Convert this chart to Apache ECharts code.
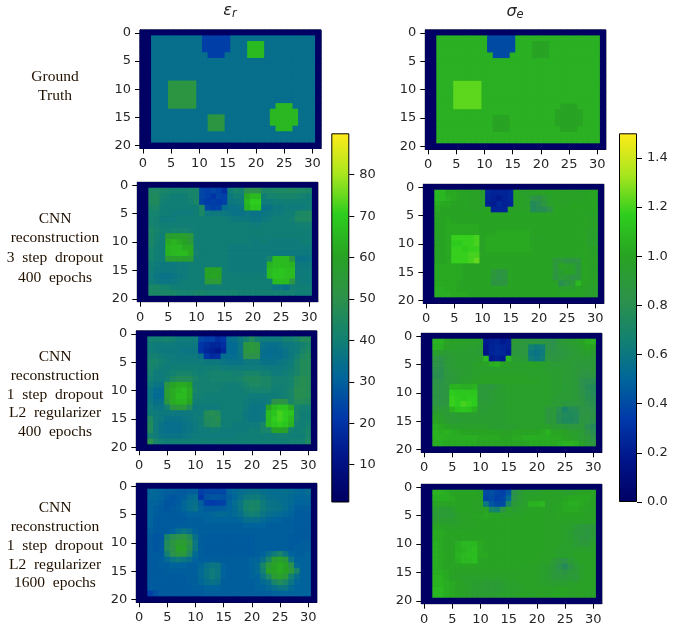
<!DOCTYPE html>
<html><head><meta charset="utf-8">
<script src="https://cdn.jsdelivr.net/npm/echarts@6/dist/echarts.min.js"></script>
<style>html,body{margin:0;padding:0;background:#fff}#c{width:684px;height:632px}</style>
</head><body><div id="c"></div>
<script>
const colLabels=Array.from({length:32},(_,i)=>String(i));
const rowLabels=Array.from({length:21},(_,i)=>String(i));
const epsBorder=1, sigBorder=0;
const epsRange=[1,90], sigRange=[0,1.5];
const epsTicks=[10,20,30,40,50,60,70,80];
const sigTicks=[0,0.2,0.4,0.6,0.8,1.0,1.2,1.4];
const cmap=['#000064','#001488','#0038aa','#00669a','#14826f','#2d9248','#28a323','#2dcd1e','#aae61e','#ffeb19'];
const rowTexts=['Ground\nTruth','CNN\nreconstruction\n3  step  dropout\n400  epochs','CNN\nreconstruction\n1  step  dropout\nL2  regularizer\n400  epochs','CNN\nreconstruction\n1  step  dropout\nL2  regularizer\n1600  epochs'];

const epsTruth=[
[34,34,34,34,34,34,34,34,34,22,22,22,22,22,34,34,34,34,34,34,34,34,34,34,34,34,34,34,34],
[34,34,34,34,34,34,34,34,34,22,22,22,22,22,34,34,34,66,66,66,34,34,34,34,34,34,34,34,34],
[34,34,34,34,34,34,34,34,34,22,22,22,22,22,34,34,34,66,66,66,34,34,34,34,34,34,34,34,34],
[34,34,34,34,34,34,34,34,34,34,22,22,22,34,34,34,34,66,66,66,34,34,34,34,34,34,34,34,34],
[34,34,34,34,34,34,34,34,34,34,34,34,34,34,34,34,34,34,34,34,34,34,34,34,34,34,34,34,34],
[34,34,34,34,34,34,34,34,34,34,34,34,34,34,34,34,34,34,34,34,34,34,34,34,34,34,34,34,34],
[34,34,34,34,34,34,34,34,34,34,34,34,34,34,34,34,34,34,34,34,34,34,34,34,34,34,34,34,34],
[34,34,34,34,34,34,34,34,34,34,34,34,34,34,34,34,34,34,34,34,34,34,34,34,34,34,34,34,34],
[34,34,34,52,52,52,52,52,34,34,34,34,34,34,34,34,34,34,34,34,34,34,34,34,34,34,34,34,34],
[34,34,34,52,52,52,52,52,34,34,34,34,34,34,34,34,34,34,34,34,34,34,34,34,34,34,34,34,34],
[34,34,34,52,52,52,52,52,34,34,34,34,34,34,34,34,34,34,34,34,34,34,34,34,34,34,34,34,34],
[34,34,34,52,52,52,52,52,34,34,34,34,34,34,34,34,34,34,34,34,34,34,34,34,34,34,34,34,34],
[34,34,34,52,52,52,52,52,34,34,34,34,34,34,34,34,34,34,34,34,34,34,65,65,65,34,34,34,34],
[34,34,34,34,34,34,34,34,34,34,34,34,34,34,34,34,34,34,34,34,34,65,65,65,65,65,34,34,34],
[34,34,34,34,34,34,34,34,34,34,52,52,52,34,34,34,34,34,34,34,34,65,65,65,65,65,34,34,34],
[34,34,34,34,34,34,34,34,34,34,52,52,52,34,34,34,34,34,34,34,34,65,65,65,65,65,34,34,34],
[34,34,34,34,34,34,34,34,34,34,52,52,52,34,34,34,34,34,34,34,34,34,65,65,65,34,34,34,34],
[34,34,34,34,34,34,34,34,34,34,34,34,34,34,34,34,34,34,34,34,34,34,34,34,34,34,34,34,34],
[34,34,34,34,34,34,34,34,34,34,34,34,34,34,34,34,34,34,34,34,34,34,34,34,34,34,34,34,34]];

const epsStep3=[
[44,44,43,42,41,41,41,42,42,24,22,24,22,18,39,42,41,50,50,50,43,43,44,44,44,45,44,44,43],
[45,45,41,40,39,39,39,41,42,24,22,20,23,22,37,39,39,62,66,66,39,41,41,42,42,42,41,40,39],
[45,45,40,39,39,39,39,40,43,23,21,22,21,22,37,37,38,65,70,70,38,38,39,39,39,39,39,39,39],
[43,43,39,39,39,39,39,39,39,44,24,22,23,33,35,35,36,64,68,68,35,35,37,37,38,38,38,38,39],
[41,41,39,39,38,38,38,38,39,43,37,37,37,37,36,35,35,36,35,35,36,37,38,38,39,39,43,44,44],
[41,40,38,38,38,39,39,39,39,39,39,39,39,39,38,37,37,37,36,36,37,38,39,39,39,40,44,44,44],
[41,40,39,39,39,39,39,39,39,39,39,39,39,39,39,39,39,39,38,38,39,39,39,39,39,39,40,40,40],
[43,41,40,40,41,41,41,40,39,39,39,39,39,39,39,39,39,39,39,39,39,39,39,39,39,39,39,39,39],
[43,40,39,56,58,58,58,54,39,39,39,39,39,39,39,39,39,39,39,39,39,39,39,39,39,39,39,39,39],
[43,40,39,62,64,62,60,55,39,39,39,39,39,39,39,39,39,39,38,38,39,38,38,38,38,38,38,39,39],
[42,39,39,64,65,65,62,62,39,39,39,39,39,39,38,38,38,38,38,38,38,38,38,38,38,38,38,38,38],
[41,39,39,64,65,66,66,62,40,39,39,39,39,39,38,38,38,38,38,38,38,38,37,37,37,37,37,37,37],
[41,39,39,56,58,58,58,56,39,39,39,39,39,39,38,38,38,38,38,38,38,42,66,66,66,52,35,35,36],
[39,38,37,37,37,38,38,39,39,39,39,39,39,39,38,38,38,38,38,38,38,64,66,66,66,64,37,37,37],
[39,37,37,37,37,38,38,39,39,39,60,60,60,39,38,38,38,38,38,38,38,66,67,68,67,66,38,38,38],
[38,36,35,35,36,37,38,39,39,39,60,61,60,39,39,39,39,39,39,39,39,66,68,68,67,66,38,38,38],
[39,37,36,36,37,38,39,39,39,39,55,55,55,39,39,39,39,39,39,39,39,39,66,66,66,52,39,38,38],
[43,43,41,41,39,39,39,39,39,39,39,39,39,39,39,39,39,39,39,39,39,39,36,36,34,39,39,39,39],
[43,43,43,43,43,41,41,41,42,42,41,41,41,41,41,41,40,40,40,40,40,40,40,40,40,40,39,39,39]];

const epsL2400=[
[40,40,40,41,40,38,38,38,38,24,22,22,18,20,33,34,37,40,46,40,38,38,38,38,40,40,42,46,46],
[39,38,38,38,38,37,37,37,37,20,18,16,16,18,32,32,36,52,54,52,35,34,34,35,37,37,38,40,42],
[39,38,37,37,37,37,36,36,36,20,16,14,12,16,32,32,36,52,54,52,34,33,33,34,35,37,38,42,44],
[40,40,39,38,38,37,37,37,37,35,20,17,18,33,33,33,35,50,50,50,34,33,34,34,35,37,40,44,46],
[42,42,40,39,38,38,38,38,38,38,37,37,37,36,35,35,35,37,37,37,35,35,35,36,37,38,42,46,46],
[42,40,39,38,39,39,39,39,39,39,39,39,39,38,38,38,38,38,38,38,38,37,37,37,38,39,42,46,46],
[41,38,38,39,40,42,42,42,40,39,40,41,41,41,41,40,40,42,42,42,40,40,38,38,39,40,42,46,46],
[40,38,38,40,44,46,46,46,42,40,40,41,41,41,41,41,42,44,45,45,43,43,40,40,40,41,46,48,47],
[38,36,35,52,60,62,62,60,40,40,40,40,40,40,39,39,40,42,44,44,43,43,40,40,40,41,46,48,47],
[36,33,32,56,62,64,66,62,42,40,40,40,40,39,39,39,39,40,41,41,41,41,39,39,40,42,48,48,47],
[36,32,32,56,62,66,66,62,40,40,39,39,39,39,39,39,39,39,38,38,38,38,38,39,40,42,48,48,47],
[37,34,35,52,62,64,64,60,39,39,39,39,39,39,39,39,39,38,37,37,37,38,50,52,50,42,46,46,45],
[38,36,36,40,52,54,54,46,37,38,38,38,38,39,39,39,39,38,36,36,36,60,66,68,68,62,42,40,40],
[39,38,37,37,37,37,37,37,38,38,46,48,46,39,39,39,39,37,36,36,37,66,68,72,70,68,42,39,39],
[44,38,37,35,35,35,36,37,38,39,46,46,48,39,39,39,39,37,36,36,37,66,70,72,70,66,42,39,39],
[46,38,35,34,34,34,35,36,37,39,44,46,46,39,39,38,38,38,38,38,42,66,68,70,68,64,40,39,40],
[46,38,35,34,34,34,35,36,37,38,38,39,39,38,38,38,38,38,39,39,42,42,60,60,58,40,39,40,42],
[40,38,36,35,35,35,36,37,38,38,38,38,38,38,38,38,39,39,39,39,39,39,39,40,40,39,39,39,42],
[50,42,40,39,39,39,39,39,39,39,39,39,39,39,39,39,39,39,39,39,39,39,39,39,39,40,40,40,44]];

const epsL21600=[
[31,31,30,29,29,28,28,29,29,22,24,24,24,24,30,32,33,34,35,35,34,33,33,33,34,33,32,31,33],
[31,31,30,28,27,28,29,32,33,20,26,27,27,26,29,31,34,37,38,38,36,34,34,33,33,32,31,31,31],
[30,30,29,27,27,28,31,33,34,29,22,21,22,23,30,33,36,41,42,42,38,35,35,34,33,32,30,30,30],
[30,29,28,27,28,29,31,33,35,30,28,28,28,29,30,32,36,41,43,42,38,36,35,35,33,31,29,29,29],
[30,29,28,28,28,28,29,30,30,30,30,31,32,32,31,32,34,38,40,39,36,34,33,32,31,30,28,28,28],
[30,28,28,28,28,28,28,29,29,29,30,30,30,30,30,30,31,34,34,34,32,31,30,30,29,29,28,28,28],
[30,28,28,28,28,29,29,29,29,29,29,29,29,29,29,29,29,30,30,30,30,29,29,29,29,29,28,28,28],
[29,28,28,28,30,34,36,34,30,29,29,29,29,29,29,29,29,29,29,29,29,29,29,29,29,29,28,28,28],
[28,27,27,42,48,50,52,46,34,29,28,28,28,28,28,28,28,28,28,29,29,29,29,29,29,28,28,28,28],
[28,27,28,46,52,56,56,50,36,29,28,28,28,28,28,28,28,28,28,29,29,29,29,29,29,28,28,29,29],
[28,27,28,46,50,60,58,48,36,29,28,28,28,28,28,28,28,28,28,29,29,29,29,29,29,28,29,29,29],
[28,28,28,40,50,54,54,44,32,29,28,28,28,28,28,28,28,28,28,29,30,34,38,42,36,30,29,29,30],
[28,28,29,32,36,38,36,34,30,29,29,29,29,29,29,29,29,29,30,30,34,42,56,58,54,36,30,30,30],
[28,28,29,29,30,30,30,29,29,31,34,36,36,30,29,29,29,29,30,32,42,54,60,62,60,50,32,30,30],
[28,28,28,29,29,29,29,29,29,32,35,38,36,30,29,29,29,29,30,32,40,58,60,62,60,54,42,30,30],
[28,28,28,28,28,28,28,29,29,32,35,38,36,30,29,29,29,29,30,30,36,44,56,58,54,40,34,30,30],
[28,28,28,28,28,28,28,29,29,31,33,35,34,29,29,29,29,29,29,30,32,34,42,46,42,36,31,30,30],
[28,28,28,28,28,28,28,28,29,29,30,30,30,29,29,29,29,29,29,30,30,32,34,36,36,32,30,30,30],
[22,26,28,28,28,28,28,28,28,28,29,29,29,29,29,29,29,29,29,29,29,29,30,30,30,30,30,30,30]];

const sigTruth=[
[105,105,105,105,105,105,105,105,105,40,40,40,40,40,105,105,105,105,105,105,105,105,105,105,105,105,105,105,105],
[105,105,105,105,105,105,105,105,105,40,40,40,40,40,105,105,105,100,100,100,105,105,105,105,105,105,105,105,105],
[105,105,105,105,105,105,105,105,105,40,40,40,40,40,105,105,105,100,100,100,105,105,105,105,105,105,105,105,105],
[105,105,105,105,105,105,105,105,105,105,40,40,40,105,105,105,105,100,100,100,105,105,105,105,105,105,105,105,105],
[105,105,105,105,105,105,105,105,105,105,105,105,105,105,105,105,105,105,105,105,105,105,105,105,105,105,105,105,105],
[105,105,105,105,105,105,105,105,105,105,105,105,105,105,105,105,105,105,105,105,105,105,105,105,105,105,105,105,105],
[105,105,105,105,105,105,105,105,105,105,105,105,105,105,105,105,105,105,105,105,105,105,105,105,105,105,105,105,105],
[105,105,105,105,105,105,105,105,105,105,105,105,105,105,105,105,105,105,105,105,105,105,105,105,105,105,105,105,105],
[105,105,105,123,123,123,123,123,105,105,105,105,105,105,105,105,105,105,105,105,105,105,105,105,105,105,105,105,105],
[105,105,105,123,123,123,123,123,105,105,105,105,105,105,105,105,105,105,105,105,105,105,105,105,105,105,105,105,105],
[105,105,105,123,123,123,123,123,105,105,105,105,105,105,105,105,105,105,105,105,105,105,105,105,105,105,105,105,105],
[105,105,105,123,123,123,123,123,105,105,105,105,105,105,105,105,105,105,105,105,105,105,105,105,105,105,105,105,105],
[105,105,105,123,123,123,123,123,105,105,105,105,105,105,105,105,105,105,105,105,105,105,100,100,100,105,105,105,105],
[105,105,105,105,105,105,105,105,105,105,105,105,105,105,105,105,105,105,105,105,105,100,100,100,100,100,105,105,105],
[105,105,105,105,105,105,105,105,105,105,100,100,100,105,105,105,105,105,105,105,105,100,100,100,100,100,105,105,105],
[105,105,105,105,105,105,105,105,105,105,100,100,100,105,105,105,105,105,105,105,105,100,100,100,100,100,105,105,105],
[105,105,105,105,105,105,105,105,105,105,100,100,100,105,105,105,105,105,105,105,105,105,100,100,100,105,105,105,105],
[105,105,105,105,105,105,105,105,105,105,105,105,105,105,105,105,105,105,105,105,105,105,105,105,105,105,105,105,105],
[105,105,105,105,105,105,105,105,105,105,105,105,105,105,105,105,105,105,105,105,105,105,105,105,105,105,105,105,105]];

const sigStep3=[
[108,108,102,102,100,100,98,98,94,26,24,24,24,26,100,96,96,98,98,98,99,98,98,98,98,98,100,100,100],
[108,108,104,102,100,100,98,98,96,24,22,20,24,26,98,98,96,84,82,90,96,98,98,98,98,98,98,100,100],
[104,102,102,100,100,100,98,98,96,22,20,26,22,24,98,98,96,76,80,88,96,98,98,98,100,100,100,100,100],
[102,100,100,100,100,100,98,98,98,100,24,24,24,98,98,98,98,76,78,78,84,100,100,100,100,100,100,100,100],
[100,100,100,100,100,100,100,100,100,100,100,100,100,100,100,100,100,100,100,100,100,100,100,100,100,100,100,98,98],
[100,100,102,100,100,100,100,100,100,100,100,100,100,100,100,100,100,100,100,100,100,100,100,100,100,100,100,98,98],
[100,100,102,102,102,102,102,102,100,100,100,100,100,100,100,100,100,100,100,100,100,100,100,100,100,100,100,98,98],
[100,100,102,102,102,102,102,102,100,100,100,102,102,102,102,102,102,100,100,100,100,100,100,100,100,100,100,96,96],
[98,100,102,118,118,118,118,120,100,102,102,102,102,102,102,102,102,98,98,100,100,100,100,100,100,100,100,96,96],
[98,100,102,116,116,118,118,120,98,102,102,102,102,102,102,102,102,100,100,100,100,100,100,100,100,100,100,96,96],
[100,100,102,118,118,116,118,118,98,102,102,102,102,102,102,102,102,100,100,100,100,100,100,100,100,100,100,98,98],
[100,100,102,118,118,118,120,120,100,100,100,100,100,100,100,100,100,100,100,100,100,100,100,100,100,100,100,98,98],
[100,100,102,118,118,118,120,124,100,100,100,100,100,100,100,100,100,100,100,100,100,90,90,86,86,88,100,98,98],
[102,102,102,102,102,100,100,100,100,100,100,100,100,100,100,100,100,100,100,100,100,88,100,96,96,88,100,98,98],
[102,102,102,102,102,100,100,100,100,100,90,86,88,100,100,100,100,100,100,100,100,88,94,98,98,88,100,98,98],
[102,102,102,102,102,100,100,100,100,100,88,84,86,100,100,100,100,100,100,100,100,86,92,90,84,88,100,98,98],
[102,102,102,102,100,100,100,100,100,100,86,86,88,100,100,100,100,100,100,100,100,98,80,86,90,108,100,98,98],
[104,104,102,102,100,100,100,100,100,100,100,100,100,100,100,100,100,100,100,100,100,100,96,96,96,100,98,96,96],
[104,104,104,102,102,102,100,100,100,100,100,100,100,100,100,100,100,100,100,100,100,100,100,100,100,100,98,96,96]];

const sigL2400=[
[106,106,100,98,98,98,97,97,96,20,22,24,20,22,92,90,88,88,88,88,84,82,90,92,94,96,100,104,106],
[104,104,98,96,96,96,95,95,94,18,24,26,24,22,90,88,88,66,62,64,84,82,88,90,92,94,96,100,100],
[96,94,92,94,94,94,94,94,92,16,24,26,25,20,90,88,88,60,58,62,86,84,86,88,90,92,94,96,94],
[88,84,90,92,94,94,94,94,96,108,20,22,20,108,94,92,90,64,60,64,88,86,88,90,92,92,92,92,92],
[84,82,90,92,94,94,94,96,98,98,104,106,100,98,96,96,96,100,98,96,94,92,92,92,92,90,90,90,90],
[82,80,88,92,92,94,94,96,96,96,96,96,96,96,96,96,96,96,96,96,94,94,94,92,92,90,88,88,90],
[80,80,88,90,92,94,94,96,96,98,98,98,98,98,98,98,98,96,96,96,96,94,94,92,92,90,86,84,86],
[84,82,88,90,92,96,96,98,98,98,98,98,98,98,98,98,98,98,98,96,96,94,94,92,92,90,82,80,80],
[86,84,86,106,106,104,104,106,90,90,88,92,94,96,96,96,96,96,96,96,96,94,94,92,92,90,82,78,76],
[86,84,86,116,114,114,114,114,90,90,92,94,94,96,96,96,96,96,96,96,96,94,94,92,92,90,84,80,76],
[86,84,86,118,116,114,116,116,90,90,92,94,94,96,96,96,96,96,96,96,96,94,92,92,92,90,86,80,78],
[88,86,88,118,116,120,118,116,92,92,92,94,94,96,96,96,96,96,96,96,96,92,92,88,88,88,86,82,80],
[92,92,92,106,112,114,112,106,92,92,94,94,94,96,96,96,96,96,96,96,88,90,80,70,76,78,84,84,82],
[98,96,92,92,94,94,94,94,94,94,94,94,94,96,96,96,96,96,96,96,88,90,78,76,74,76,84,86,84],
[100,98,94,92,92,94,94,94,94,94,94,94,94,96,96,96,96,96,96,96,88,90,78,74,74,76,86,86,82],
[104,102,100,96,96,96,96,96,96,96,94,94,94,94,94,96,96,96,96,98,96,92,92,90,88,88,90,80,76],
[106,104,106,104,102,100,100,100,100,100,100,100,98,98,100,100,100,100,100,102,106,100,100,98,96,94,92,84,80],
[106,106,104,104,104,104,104,104,102,102,102,102,100,100,102,102,104,104,104,104,104,102,102,100,98,96,92,90,84],
[104,104,102,102,102,102,102,102,100,100,100,100,100,100,100,100,100,102,102,102,102,102,104,106,106,104,98,92,88]];

const sigL21600=[
[106,106,104,100,100,100,100,100,98,40,42,38,36,44,82,90,96,96,96,98,98,98,98,96,96,98,100,100,100],
[104,104,104,102,100,100,100,100,98,38,40,36,38,52,84,92,96,98,98,98,98,98,98,100,102,102,102,102,100],
[100,100,100,100,100,100,100,98,98,60,44,40,40,70,90,94,96,106,106,108,96,98,100,102,104,104,102,100,98],
[94,92,92,94,100,100,100,98,98,100,70,66,84,98,94,96,98,100,100,100,98,98,100,102,102,102,100,98,98],
[92,92,92,92,96,98,98,100,100,102,100,100,98,96,98,98,100,100,100,100,98,98,100,100,100,100,100,98,98],
[94,94,94,94,96,98,98,98,100,100,100,100,100,100,100,100,100,100,100,100,98,98,98,98,98,98,98,98,98],
[100,100,98,98,98,98,98,98,100,100,100,100,100,100,100,100,100,100,100,100,98,98,98,96,96,92,90,88,90],
[102,102,100,100,100,100,100,100,100,100,100,100,100,100,100,100,100,100,100,100,98,98,98,96,94,90,90,88,90],
[102,102,100,100,100,100,100,100,100,100,100,100,100,100,100,100,100,100,100,100,98,98,98,96,94,92,88,88,92],
[104,102,100,100,104,108,108,108,102,100,100,100,100,100,100,100,100,100,100,100,98,98,98,96,96,92,90,90,96],
[104,102,100,100,104,106,108,110,102,100,100,100,100,100,100,100,100,100,100,100,98,98,96,96,96,96,96,96,98],
[104,102,100,100,106,108,110,110,102,102,100,100,100,100,100,100,100,100,100,98,98,98,96,96,96,98,98,98,98],
[104,102,100,100,104,108,108,110,100,100,100,100,100,100,100,100,100,100,98,98,98,92,88,84,92,96,98,98,98],
[104,102,100,100,100,100,100,100,100,100,100,100,100,100,100,100,98,98,98,96,94,90,82,76,84,92,96,98,98],
[104,104,102,100,98,98,98,98,98,98,98,98,98,98,98,98,98,98,98,96,94,90,88,86,90,92,96,98,98],
[106,106,102,98,98,96,96,96,96,96,96,96,96,98,98,98,98,98,98,96,94,90,90,90,92,90,96,98,98],
[106,106,104,102,100,98,96,94,94,92,92,92,94,96,96,98,98,98,98,96,96,94,94,94,96,96,98,98,98],
[108,108,104,102,98,98,96,94,94,92,92,92,94,96,96,96,98,98,98,98,98,98,100,100,98,98,98,98,98],
[108,108,104,102,100,98,96,94,94,94,94,94,96,96,96,98,98,98,98,98,98,100,100,100,98,98,98,98,98]];

const panels=[
 {rows:epsTruth,kind:0,bg:'#00758f',box:[140,30,181,118.5]},
 {rows:epsStep3,kind:0,bg:'#0f8079',box:[137.3,182.3,180.5,119.4]},
 {rows:epsL2400,kind:0,bg:'#0f8079',box:[136.3,331,180.5,119.3]},
 {rows:epsL21600,kind:0,bg:'#006c96',box:[136.3,483.3,180.5,119]},
 {rows:sigTruth,kind:1,bg:'#2ab421',box:[425.3,30,180.5,119.3]},
 {rows:sigStep3,kind:1,bg:'#2aa02c',box:[423.3,184.3,180.5,119]},
 {rows:sigL2400,kind:1,bg:'#2c9548',box:[421.3,333.3,180.5,119]},
 {rows:sigL21600,kind:1,bg:'#2aa02c',box:[421.3,484.3,180.5,119.4]}
];
const axisColor='#000', textColor='#262626', tickFont=13;
function cells(rows,kind){
  const out=[];const b=kind?sigBorder:epsBorder;
  for(let y=0;y<21;y++)for(let x=0;x<32;x++){
    let v=b;
    if(y>=1&&y<=19&&x>=2&&x<=30){v=rows[y-1][x-2];if(kind)v=v/100;}
    out.push([x,y,v]);
  }
  return out;
}
const grid=[],xAxis=[],yAxis=[],series=[];
function heat(p,i){
  return {type:'heatmap',xAxisIndex:i,yAxisIndex:i,data:cells(p.rows,p.kind),progressive:0,animation:false,emphasis:{disabled:true},itemStyle:{borderWidth:0}};
}
panels.forEach((p,i)=>{
  grid.push({left:p.box[0],top:p.box[1],width:p.box[2],height:p.box[3],show:true,borderColor:'#000',borderWidth:1,backgroundColor:p.bg});
  xAxis.push({type:'category',gridIndex:i,data:colLabels,position:'bottom',
    axisLine:{show:true,onZero:false,lineStyle:{color:axisColor,width:1}},
    axisTick:{show:true,alignWithLabel:true,interval:4,length:5,lineStyle:{color:axisColor}},
    axisLabel:{interval:4,fontFamily:'DejaVu Sans',fontSize:tickFont,color:textColor,margin:9},
    splitLine:{show:false},splitArea:{show:false}});
  yAxis.push({type:'category',gridIndex:i,data:rowLabels,inverse:true,position:'left',
    axisLine:{show:true,onZero:false,lineStyle:{color:axisColor,width:1}},
    axisTick:{show:true,alignWithLabel:true,interval:4,length:5,lineStyle:{color:axisColor}},
    axisLabel:{interval:4,fontFamily:'DejaVu Sans',fontSize:tickFont,color:textColor,margin:9},
    splitLine:{show:false},splitArea:{show:false}});
  series.push(heat(p,i));
});
function colorbar(idx,left,range,ticks,fmt){
  grid.push({left:left,top:133.3,width:18,height:368.7});
  xAxis.push({type:'category',gridIndex:idx,data:[''],axisLine:{show:false},axisTick:{show:false},axisLabel:{show:false}});
  yAxis.push({type:'value',gridIndex:idx,position:'right',min:range[0],max:range[1],splitLine:{show:false},
    axisLine:{show:false},
    axisTick:{show:true,length:5,inside:false,customValues:ticks,lineStyle:{color:axisColor}},
    axisLabel:{show:true,customValues:ticks,fontFamily:'DejaVu Sans',fontSize:tickFont,color:textColor,margin:10,formatter:fmt}});
  const top=range[1];
  const stops=cmap.map((c,k)=>{
    const v=range[0]+(range[1]-range[0])*k/(cmap.length-1);
    return {offset:1-v/top,color:c};
  }).reverse();
  series.push({type:'bar',xAxisIndex:idx,yAxisIndex:idx,data:[top],barWidth:'100%',animation:false,silent:true,
    itemStyle:{color:{type:'linear',x:0,y:0,x2:0,y2:1,colorStops:stops},borderColor:'#000',borderWidth:1}});
}
colorbar(8,331.3,epsRange,epsTicks,v=>String(v));
colorbar(9,619,sigRange,sigTicks,v=>v.toFixed(1));
panels.forEach((p,i)=>series.push(heat(p,i)));
const rowTitle=[[67,19.5],[209,19.6],[348,18.6],[499,18.7]];
const title=rowTexts.map((t,i)=>({text:t,left:55,top:rowTitle[i][0],textAlign:'center',padding:0,
  textStyle:{fontFamily:'Liberation Serif',fontSize:15.5,fontWeight:'normal',color:'#201000',lineHeight:rowTitle[i][1]}}));
const mathRich={a:{fontFamily:'DejaVu Sans',fontStyle:'italic',fontWeight:'normal',fontSize:16,color:'#262626'},
  s:{fontFamily:'DejaVu Sans',fontStyle:'italic',fontWeight:'normal',fontSize:11.5,color:'#262626',verticalAlign:'bottom',padding:[7,0,0,0]}};
title.push({text:'{a|ε}{s|r}',left:230,top:1,textAlign:'center',padding:0,textStyle:{fontWeight:'normal',rich:mathRich}});
title.push({text:'{a|σ}{s|e}',left:515,top:2,textAlign:'center',padding:0,textStyle:{fontWeight:'normal',rich:mathRich}});
const chart=echarts.init(document.getElementById('c'),null,{renderer:'canvas'});
chart.setOption({animation:false,backgroundColor:'#fff',title,grid,xAxis,yAxis,series,tooltip:{show:false},
  visualMap:[
   {type:'continuous',show:false,min:epsRange[0],max:epsRange[1],dimension:2,seriesIndex:[0,1,2,3,10,11,12,13],inRange:{color:cmap}},
   {type:'continuous',show:false,min:sigRange[0],max:sigRange[1],dimension:2,seriesIndex:[4,5,6,7,14,15,16,17],inRange:{color:cmap}}
  ]});
</script></body></html>
